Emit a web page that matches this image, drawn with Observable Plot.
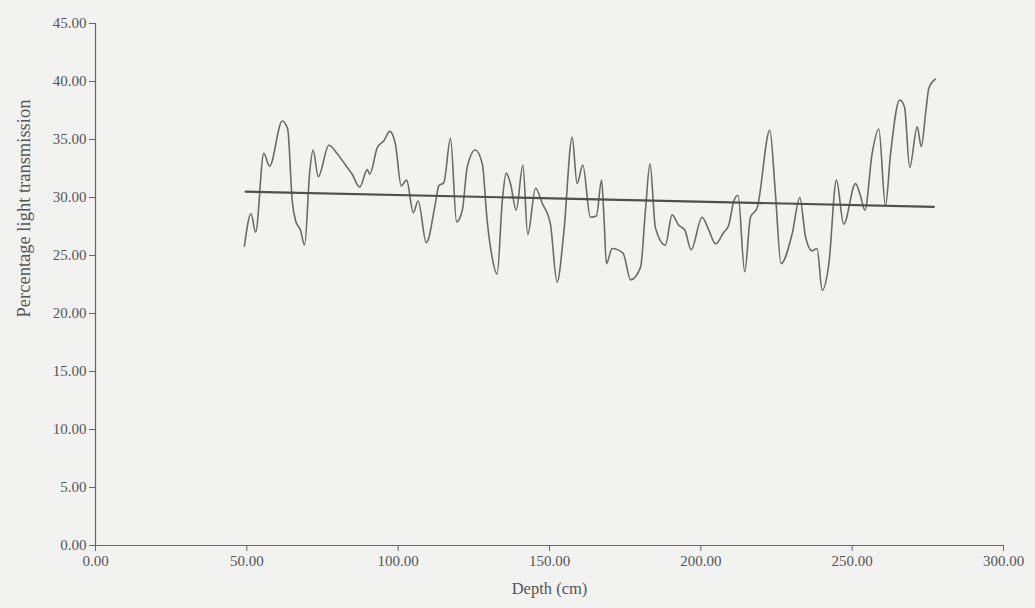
<!DOCTYPE html>
<html>
<head>
<meta charset="utf-8">
<script src="https://cdn.jsdelivr.net/npm/d3@7"></script>
<script src="https://cdn.jsdelivr.net/npm/@observablehq/plot@0.6"></script>
<style>
  html, body { margin: 0; padding: 0; background: #f2f2f0; }
  #chart svg { display: block; background: #f2f2f0; }
</style>
</head>
<body>
<div id="chart"></div>
<script>
// Core profile: light transmission (%) against depth (cm)
const depth = [
  49.2, 51.4, 52.9, 55.6, 57.5, 61.7, 63.5, 65.0, 66.1, 67.7,
  69.1, 70.8, 71.9, 73.6, 77.1, 79.8, 82.6, 84.8, 87.3, 89.8,
  90.6, 93.1, 95.3, 97.2, 99.1, 101.0, 102.8, 105.0, 106.6, 109.3,
  112.3, 113.4, 115.1, 117.3, 119.3, 121.2, 122.8, 125.5, 127.8, 129.4,
  131.0, 132.7, 134.4, 135.7, 137.1, 139.0, 141.2, 142.8, 145.4, 147.6,
  150.3, 152.5, 154.7, 157.5, 159.1, 161.0, 163.5, 165.5, 167.2, 168.0,
  168.8, 170.7, 174.3, 176.8, 180.1, 181.7, 183.2, 185.0, 188.3, 190.5,
  192.7, 194.7, 196.8, 200.4, 202.6, 204.9, 207.6, 209.2, 210.9, 212.3,
  214.5, 216.4, 218.6, 222.8, 224.6, 226.5, 230.2, 232.7, 234.6, 236.8,
  238.4, 240.1, 242.3, 244.8, 247.2, 251.1, 252.7, 254.2, 256.6, 258.8,
  261.0, 262.7, 265.7, 267.3, 269.0, 271.5, 272.8, 274.5, 275.3, 277.5
];
const transmission = [
  25.8, 28.6, 27.0, 33.8, 32.7, 36.6, 35.9, 29.7, 28.0, 27.2,
  25.9, 32.3, 34.1, 31.8, 34.5, 33.8, 32.8, 32.0, 30.9, 32.4,
  32.0, 34.3, 34.9, 35.7, 34.6, 31.0, 31.5, 28.7, 29.7, 26.1,
  29.5, 31.0, 31.3, 35.1, 27.9, 28.9, 32.6, 34.1, 32.9, 28.0,
  24.9, 23.4, 29.7, 32.1, 31.2, 28.9, 32.8, 26.8, 30.8, 29.5,
  27.7, 22.7, 26.9, 35.2, 31.2, 32.8, 28.3, 28.4, 31.5, 28.3,
  24.3, 25.6, 25.2, 22.9, 24.0, 28.9, 32.9, 27.4, 25.9, 28.5,
  27.6, 27.2, 25.5, 28.3, 27.2, 26.0, 27.0, 27.6, 29.7, 30.2,
  23.6, 28.3, 29.1, 35.8, 30.5, 24.3, 26.9, 30.0, 26.6, 25.4,
  25.6, 22.0, 24.3, 31.5, 27.7, 31.2, 30.2, 28.9, 33.8, 35.9,
  29.3, 33.8, 38.4, 37.8, 32.6, 36.1, 34.4, 37.8, 39.4, 40.2
];

// Linear trend line end points
const trendDepth = [49.6, 277.0];
const trendValue = [30.5, 29.2];

// Axis ticks
const xTicks = [0, 50, 100, 150, 200, 250, 300];
const yTicks = [0, 5, 10, 15, 20, 25, 30, 35, 40, 45];

const series = depth.map((d, i) => ({depth: d, value: transmission[i]}));
const trend = trendDepth.map((d, i) => ({depth: d, value: trendValue[i]}));

const fmt = d3.format(".2f");
const font = "'Liberation Serif', 'DejaVu Serif', serif";

const chart = Plot.plot({
  width: 1035,
  height: 608,
  marginLeft: 95,
  marginRight: 32,
  marginTop: 23,
  marginBottom: 63,
  style: {background: "#f2f2f0", fontFamily: font, fontSize: "15px", color: "#555"},
  x: {domain: [0, 300], ticks: xTicks, tickFormat: fmt},
  y: {domain: [0, 45], ticks: yTicks, tickFormat: fmt},
  marks: [
    Plot.axisX({
      ticks: xTicks, tickFormat: fmt, tickSize: 6, tickPadding: 4,
      stroke: "#666", fill: "#555", fontSize: 15,
      label: "Depth (cm)", labelAnchor: "center", labelArrow: "none", labelOffset: 48
    }),
    Plot.axisY({
      ticks: yTicks, tickFormat: fmt, tickSize: 6, tickPadding: 3,
      stroke: "#666", fill: "#555", fontSize: 15,
      label: "Percentage light transmission", labelAnchor: "center", labelArrow: "none", labelOffset: 80
    }),
    Plot.ruleX([0], {stroke: "#666", strokeWidth: 1.2}),
    Plot.ruleY([0], {stroke: "#666", strokeWidth: 1.2}),
    Plot.line(series, {x: "depth", y: "value", stroke: "#6a6a6a", strokeWidth: 1.6, curve: "monotone-x"}),
    Plot.line(trend, {x: "depth", y: "value", stroke: "#4f4f4f", strokeWidth: 2.2})
  ]
});

// Axis titles in the same serif face, slightly larger than the tick labels
d3.select(chart).selectAll("[aria-label='x-axis label'] text")
  .style("font-size", "16.5px");

// The vertical title sits in the upper part of the left margin
d3.select(chart).selectAll("[aria-label='y-axis label'] text")
  .style("font-size", "18.5px")
  .each(function () {
    const t = this.getAttribute("transform") || "";
    const m = /translate\(([-\d.]+),\s*([-\d.]+)\)/.exec(t);
    if (m) this.setAttribute("transform", t.replace(m[0], `translate(${+m[1] + 1},208)`));
  });

document.getElementById("chart").append(chart);
</script>
</body>
</html>
